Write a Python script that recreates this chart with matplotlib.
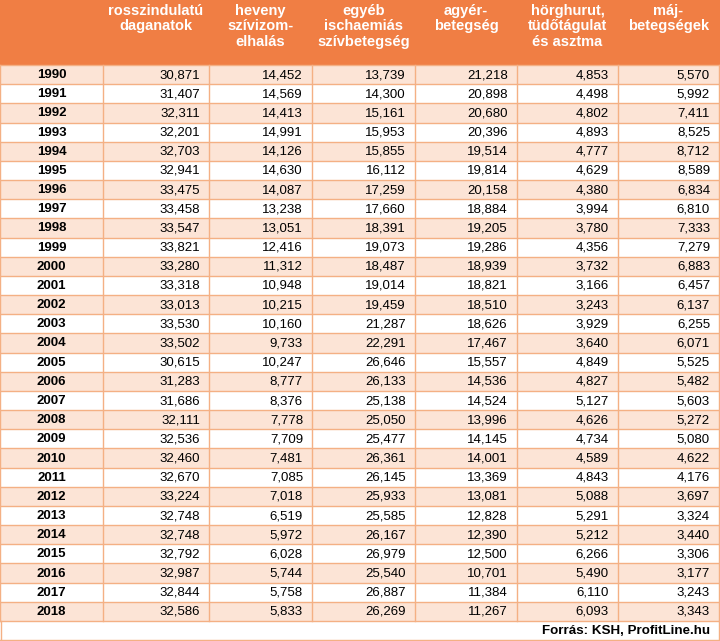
import matplotlib.pyplot as plt
from matplotlib.patches import Rectangle

years = list(range(1990, 2019))

headers = ['rosszindulatú\ndaganatok', 'heveny\nszívizom-\nelhalás',
           'egyéb\nischaemiás\nszívbetegség', 'agyér-\nbetegség',
           'hörghurut,\ntüdőtágulat\nés asztma', 'máj-\nbetegségek']

daganatok = [30871, 31407, 32311, 32201, 32703, 32941, 33475, 33458, 33547, 33821,
             33280, 33318, 33013, 33530, 33502, 30615, 31283, 31686, 32111, 32536,
             32460, 32670, 33224, 32748, 32748, 32792, 32987, 32844, 32586]
szivizom = [14452, 14569, 14413, 14991, 14126, 14630, 14087, 13238, 13051, 12416,
            11312, 10948, 10215, 10160, 9733, 10247, 8777, 8376, 7778, 7709,
            7481, 7085, 7018, 6519, 5972, 6028, 5744, 5758, 5833]
ischaemias = [13739, 14300, 15161, 15953, 15855, 16112, 17259, 17660, 18391, 19073,
              18487, 19014, 19459, 21287, 22291, 26646, 26133, 25138, 25050, 25477,
              26361, 26145, 25933, 25585, 26167, 26979, 25540, 26887, 26269]
agyer = [21218, 20898, 20680, 20396, 19514, 19814, 20158, 18884, 19205, 19286,
         18939, 18821, 18510, 18626, 17467, 15557, 14536, 14524, 13996, 14145,
         14001, 13369, 13081, 12828, 12390, 12500, 10701, 11384, 11267]
horghurut = [4853, 4498, 4802, 4893, 4777, 4629, 4380, 3994, 3780, 4356,
             3732, 3166, 3243, 3929, 3640, 4849, 4827, 5127, 4626, 4734,
             4589, 4843, 5088, 5291, 5212, 6266, 5490, 6110, 6093]
maj = [5570, 5992, 7411, 8525, 8712, 8589, 6834, 6810, 7333, 7279,
       6883, 6457, 6137, 6255, 6071, 5525, 5482, 5603, 5272, 5080,
       4622, 4176, 3697, 3324, 3440, 3306, 3177, 3243, 3343]

columns = [daganatok, szivizom, ischaemias, agyer, horghurut, maj]
source = 'Forrás: KSH, ProfitLine.hu'

# colours
orange = '#F07E44'
light = '#FCE4D6'
line_col = '#F4B084'

W, H = 720, 641
col_x = [0, 103, 209, 312, 415, 517, 618, 719]
head_h = 65
row_h = (621 - head_h) / len(years)

plt.rcParams['font.family'] = ['Liberation Sans', 'DejaVu Sans']

fig = plt.figure(figsize=(W / 100, H / 100), dpi=100)
ax = fig.add_axes([0, 0, 1, 1])
ax.set_xlim(0, W)
ax.set_ylim(H, 0)
ax.axis('off')

# header band
ax.add_patch(Rectangle((0, 0), W, head_h, color=orange, lw=0))
for i, h in enumerate(headers):
    cx = (col_x[i + 1] + col_x[i + 2]) / 2
    ax.text(cx, 4, h, ha='center', va='top', color='white', fontsize=10.5,
            fontweight='bold', linespacing=1.12)

# body rows
for r, yr in enumerate(years):
    y0 = head_h + r * row_h
    if r % 2 == 0:
        ax.add_patch(Rectangle((0, y0), W, row_h, color=light, lw=0))
    yc = y0 + row_h / 2 + 0.5
    ax.text((col_x[0] + col_x[1]) / 2, yc, str(yr), ha='center', va='center',
            fontsize=9.5, fontweight='bold', color='black')
    for c, vals in enumerate(columns):
        ax.text(col_x[c + 2] - 9, yc, f'{vals[r]:,}', ha='right', va='center',
                fontsize=9.5, color='black')

# grid lines
body_end = head_h + len(years) * row_h
for r in range(len(years) + 1):
    y = head_h + r * row_h
    ax.plot([0, W], [y, y], color=line_col, lw=1)
for x in col_x:
    ax.plot([x, x], [head_h, body_end], color=line_col, lw=1)
ax.plot([0.5, 0.5], [body_end, H - 1], color=line_col, lw=1)
ax.plot([719, 719], [body_end, H - 1], color=line_col, lw=1)
ax.plot([0, W], [H - 1, H - 1], color=line_col, lw=1)

ax.text(col_x[-1] - 9, (body_end + H) / 2 + 0.5, source, ha='right', va='center',
        fontsize=9.6, fontweight='bold', color='black')

fig.savefig('out.png', dpi=100)
